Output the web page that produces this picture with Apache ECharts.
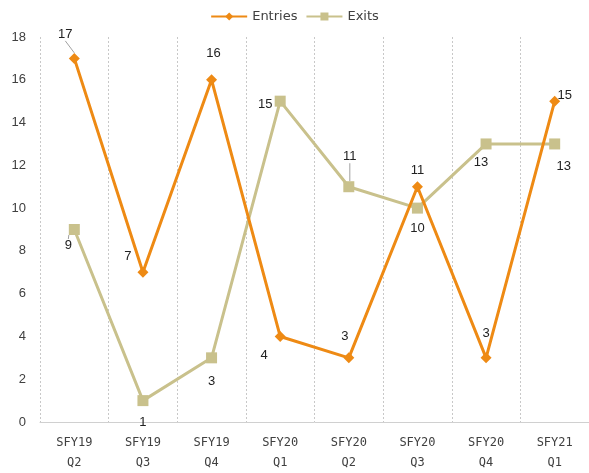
<!DOCTYPE html>
<html><head><meta charset="utf-8">
<script src="https://cdn.jsdelivr.net/npm/echarts@6/dist/echarts.min.js"></script>
<style>html,body{margin:0;padding:0;background:#fff}#c{width:589px;height:473px}</style>
</head><body><div id="c"></div>
<script>
const categories = ['SFY19\nQ2','SFY19\nQ3','SFY19\nQ4','SFY20\nQ1','SFY20\nQ2','SFY20\nQ3','SFY20\nQ4','SFY21\nQ1'];
const entries = [17, 7, 16, 4, 3, 11, 3, 15];
const exits = [9, 1, 3, 15, 11, 10, 13, 13];
const yTicks = [0, 2, 4, 6, 8, 10, 12, 14, 16, 18];

const entryOffsets = [[-9,-24],[-15,-16],[2,-26],[-16,19],[-4,-21],[0,-16],[0,-24],[10,-6]];
const exitOffsets = [[-6,16],[0,22],[0,24],[-15,3],[1,-30],[0,20],[-5,18],[9,22]];
const entryGuides = [0];
const exitGuides = [0, 4];

function withLabels(vals, guides) {
  return vals.map((v, i) => ({ value: v, labelLine: { show: guides.indexOf(i) >= 0 } }));
}

const chart = echarts.init(document.getElementById('c'));
const txt = '#404040';
chart.setOption({
  animation: false,
  textStyle: { fontFamily: 'Liberation Sans, Arial, sans-serif' },
  legend: {
    top: 5, left: 'center', itemWidth: 36, itemHeight: 10, itemGap: 8,
    textStyle: { color: txt, fontSize: 13, fontFamily: 'DejaVu Sans' },
    data: ['Entries', 'Exits']
  },
  grid: { left: 40, right: -2, top: 37, bottom: 50 },
  xAxis: {
    type: 'category', data: categories, boundaryGap: true,
    axisLine: { show: true, lineStyle: { color: '#d0d0d0' } },
    axisTick: { show: false },
    splitLine: { show: true, lineStyle: { color: '#c8c8c8', type: [2, 2] } },
    axisLabel: { color: txt, fontSize: 12, lineHeight: 20, margin: 11, fontFamily: 'DejaVu Sans Mono' }
  },
  yAxis: {
    type: 'value', min: yTicks[0], max: yTicks[yTicks.length - 1], interval: 2,
    axisLine: { show: false }, axisTick: { show: false }, splitLine: { show: false },
    axisLabel: { color: txt, fontSize: 13, margin: 14 }
  },
  series: [
    {
      name: 'Entries', type: 'line', data: withLabels(entries, entryGuides),
      symbol: 'diamond', symbolSize: 11,
      lineStyle: { color: '#EE8A14', width: 3 },
      itemStyle: { color: '#EE8A14' },
      label: { show: true, position: 'inside', color: '#222', fontSize: 13 },
      labelLine: { lineStyle: { color: '#a0a0a0', width: 1 } },
      labelLayout: p => ({ dx: entryOffsets[p.dataIndex][0], dy: entryOffsets[p.dataIndex][1] }),
      z: 3
    },
    {
      name: 'Exits', type: 'line', data: withLabels(exits, exitGuides),
      symbol: 'rect', symbolSize: 11,
      lineStyle: { color: '#C9C18C', width: 3 },
      itemStyle: { color: '#C9C18C' },
      label: { show: true, position: 'inside', color: '#222', fontSize: 13 },
      labelLine: { lineStyle: { color: '#a0a0a0', width: 1 } },
      labelLayout: p => ({ dx: exitOffsets[p.dataIndex][0], dy: exitOffsets[p.dataIndex][1] }),
      z: 2
    }
  ]
});
</script></body></html>
